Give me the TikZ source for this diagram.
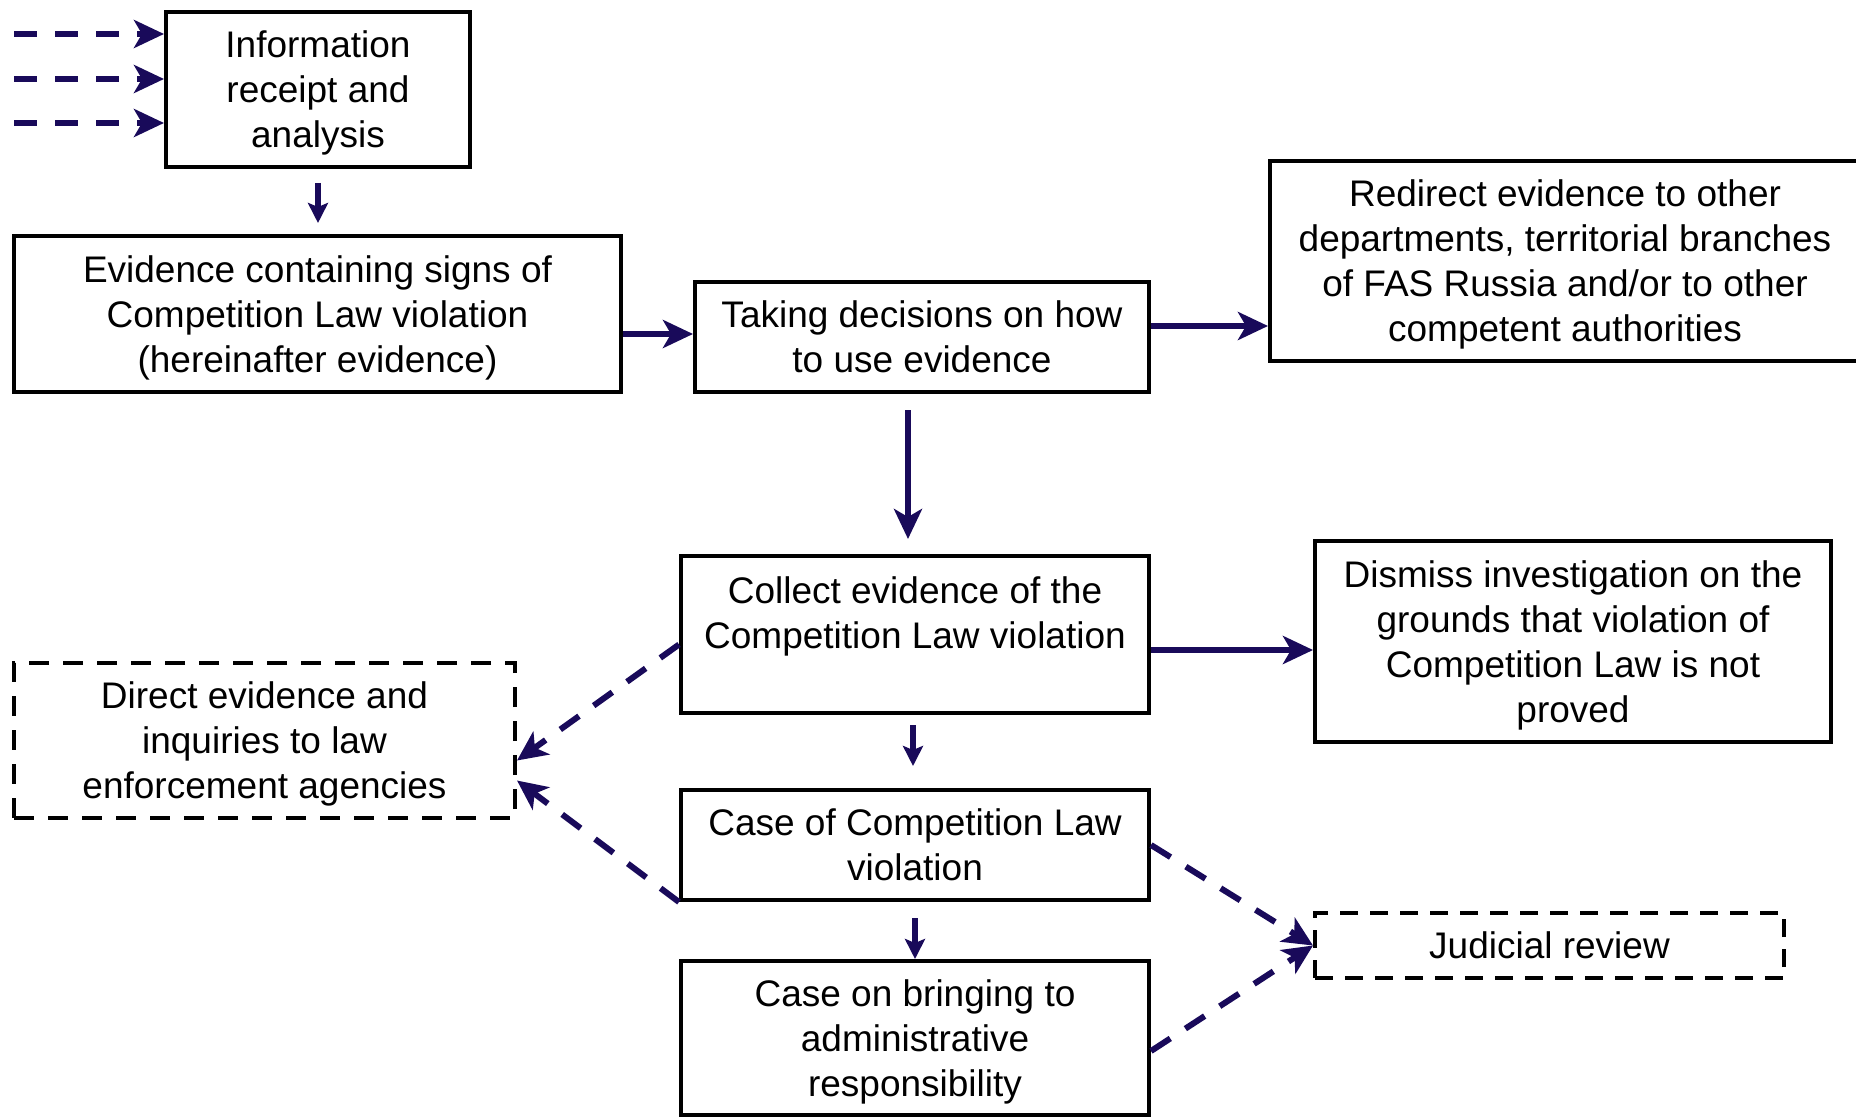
\documentclass[tikz,border=0pt]{standalone}
\usepackage{fontspec}
\setmainfont{Liberation Sans}
\usetikzlibrary{arrows.meta}
\definecolor{navy}{RGB}{25,10,90}

\begin{document}
\begin{tikzpicture}[x=0.5pt,y=-0.5pt,
  box/.style={draw,line width=2pt,inner sep=0pt,align=center,
    font=\fontsize{18.5}{22.5}\selectfont},
  tall/.style={text depth=0pt},
  dbox/.style={box,dash pattern=on 10pt off 7pt},
  flow/.style={navy,line width=3pt,-{Stealth[length=15pt,width=14pt,inset=4pt]}},
  smallflow/.style={navy,line width=3pt,-{Stealth[length=10pt,width=10pt,inset=2pt]}},
  dflow/.style={flow,dash pattern=on 11.5pt off 9pt}]
\useasboundingbox (0,0) rectangle (1856,1117);
% boxes
\node[box,tall,minimum width=152pt,minimum height=77.5pt] (info) at (318,89.5)
  {Information\\receipt and\\analysis};
\node[box,tall,minimum width=303.5pt,minimum height=78pt] (evid) at (317.5,314)
  {Evidence containing signs of\\Competition Law violation\\(hereinafter evidence)};
\node[box,minimum width=227pt,minimum height=55pt] (decide) at (922,337)
  {Taking decisions on how\\to use evidence};
\node[box,tall,minimum width=295pt,minimum height=100pt] (redirect) at (1565,261)
  {Redirect evidence to other\\departments, territorial branches\\of FAS Russia and/or to other\\competent authorities};
\node[box,text height=65.5pt,minimum width=234pt,minimum height=78.5pt] (collect) at (915,634.5)
  {Collect evidence of the\\Competition Law violation\\\strut};
\node[box,tall,minimum width=258pt,minimum height=100.5pt] (dismiss) at (1573,641.5)
  {Dismiss investigation on the\\grounds that violation of\\Competition Law is not\\proved};
\node[box,minimum width=234pt,minimum height=55pt] (case) at (915,845)
  {Case of Competition Law\\violation};
\node[box,tall,minimum width=234pt,minimum height=77pt] (bring) at (915,1038)
  {Case on bringing to\\administrative\\responsibility};
\node[dbox,tall,minimum width=250.5pt,minimum height=77.5pt] (direct) at (264.5,740.5)
  {Direct evidence and\\inquiries to law\\enforcement agencies};
\node[dbox,minimum width=234.5pt,minimum height=32.5pt,dash pattern=on 9pt off 6pt] (review) at (1549.5,945.5)
  {Judicial review};
% incoming information
\foreach \i/\yy in {1/34,2/79,3/123}{
  \coordinate (in\i) at (14,\yy);
  \draw[dflow] (in\i) -- (in\i -| info.west);
}
% main flow
\draw[smallflow,shorten <=7pt,shorten >=5.5pt] (info.south) -- (info.south |- evid.north);
\draw[flow] ([yshift=-10pt]evid.east) -- ([yshift=-10pt]evid.east -| decide.west);
\draw[flow] ([yshift=5.5pt]decide.east) -- ([yshift=5.5pt]decide.east -| redirect.west);
\draw[flow,shorten <=8pt,shorten >=7.5pt] ([xshift=-7pt]decide.south) -- ([xshift=-7pt]decide.south |- collect.north);
\draw[flow] ([yshift=-7.75pt]collect.east) -- ([yshift=-7.75pt]collect.east -| dismiss.west);
\draw[smallflow,shorten <=5pt,shorten >=11pt] ([xshift=-1pt]collect.south) -- ([xshift=-1pt]collect.south |- case.north);
\draw[smallflow,shorten <=8pt] (case.south) -- (bring.north);
% side flows
\draw[dflow] ([yshift=-5pt]collect.west) -- ([yshift=-10pt]direct.east);
\draw[dflow] (case.south west) -- ([yshift=-20pt]direct.east);
\draw[dflow] (case.east) -- (review.west);
\draw[dflow] ([yshift=-6.5pt]bring.east) -- (review.west);
\end{tikzpicture}
\end{document}
